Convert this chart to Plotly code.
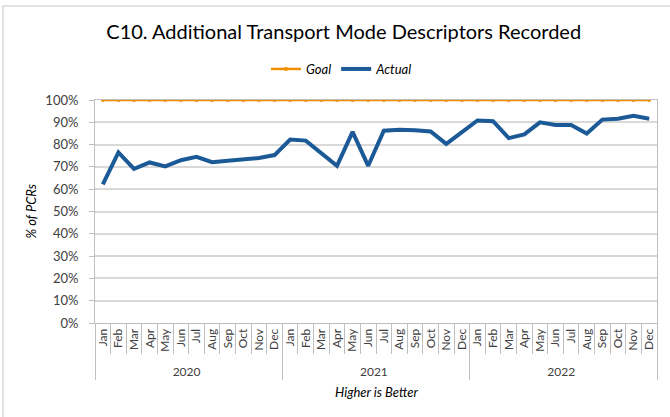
import plotly.graph_objects as go

years = ["2020"] * 12 + ["2021"] * 12 + ["2022"] * 12
months = ["Jan", "Feb", "Mar", "Apr", "May", "Jun", "Jul", "Aug", "Sep", "Oct", "Nov", "Dec"] * 3
goal = [1.0] * 36
actual = [
    0.622, 0.765, 0.691, 0.720, 0.702, 0.730, 0.745, 0.721, 0.728, 0.733, 0.740, 0.753,
    0.823, 0.818, 0.761, 0.705, 0.857, 0.705, 0.862, 0.867, 0.864, 0.859, 0.803, 0.855,
    0.908, 0.905, 0.829, 0.846, 0.900, 0.888, 0.888, 0.850, 0.912, 0.916, 0.929, 0.916,
]

FONT = "Lato, Carlito, 'Open Sans', sans-serif"
GRID = "#D9D9D9"
AXIS = "#BFBFBF"

fig = go.Figure()
fig.add_trace(go.Scatter(
    x=[years, months], y=goal, name="Goal", mode="lines+markers",
    line=dict(color="#F28C00", width=2.5),
    marker=dict(color="#F28C00", size=4, symbol="circle"),
))
fig.add_trace(go.Scatter(
    x=[years, months], y=actual, name="Actual", mode="lines",
    line=dict(color="#1B5A96", width=4),
))

fig.update_layout(
    width=670, height=417, autosize=False,
    margin=dict(l=95, r=13, t=100, b=94, autoexpand=False),
    paper_bgcolor="white", plot_bgcolor="white",
    font=dict(family=FONT, color="#404040"),
    title=dict(text="C10. Additional Transport Mode Descriptors Recorded",
               x=0.513, xanchor="center", y=0.923, yanchor="middle", yref="container",
               font=dict(family=FONT, size=20, color="#000000")),
    legend=dict(orientation="h", x=(342 - 95) / 562, xanchor="center",
                y=1 - 69 / 417, yanchor="middle", yref="container",
                font=dict(family=FONT, size=13, color="#000000", style="italic"),
                itemwidth=30, tracegroupgap=0),
    showlegend=True,
    shapes=[dict(type="rect", xref="paper", yref="paper",
                 x0=-92 / 562, x1=700 / 562, y0=-120 / 223, y1=(323 - 6) / 223,
                 line=dict(color=GRID, width=1.5), fillcolor="rgba(0,0,0,0)", layer="below")],
    annotations=[
        dict(text="Higher is Better", xref="paper", yref="paper", x=0.5, y=-69 / 223,
             xanchor="center", yanchor="middle", showarrow=False,
             font=dict(family=FONT, size=13, color="#000000", style="italic")),
        dict(text="% of PCRs", xref="paper", yref="paper", x=-65 / 562, y=0.5,
             xanchor="center", yanchor="middle", showarrow=False, textangle=-90,
             font=dict(family=FONT, size=13, color="#000000", style="italic")),
    ],
)

fig.update_xaxes(
    type="multicategory", automargin=False,
    range=[-0.5, len(months) - 0.5],
    tickangle=-90,
    tickfont=dict(family=FONT, size=12, color="#404040"),
    ticks="outside", ticklen=30, tickcolor=AXIS, tickson="boundaries",
    showdividers=True, dividercolor=AXIS, dividerwidth=1,
    showline=True, linecolor=AXIS, mirror=True,
    showgrid=False,
)
fig.update_yaxes(
    automargin=False,
    range=[0, 1], tickformat=".0%", dtick=0.1,
    tickfont=dict(family=FONT, size=13, color="#404040"),
    ticks="outside", ticklen=5, tickcolor=AXIS, ticklabelstandoff=8,
    showline=True, linecolor=AXIS, mirror=True,
    showgrid=True, gridcolor=GRID, gridwidth=1.5,
    zeroline=False,
)

fig.write_html("out.html", config={"displayModeBar": False},
               post_script="document.body.style.margin='0';")
